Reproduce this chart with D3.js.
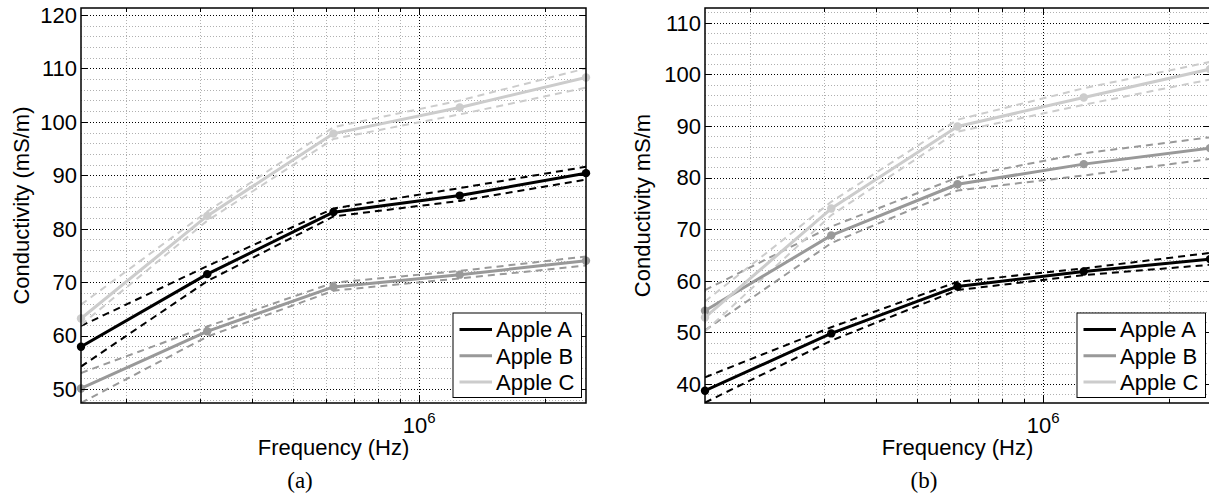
<!DOCTYPE html>
<html>
<head>
<meta charset="utf-8">
<script src="https://cdn.jsdelivr.net/npm/d3@7"></script>
<style>
  body { margin: 0; background: #fff; }
  svg { display: block; }
  text { font-family: "Liberation Sans", Arial, sans-serif; fill: #000; }
</style>
</head>
<body>
<svg id="chart" width="1209" height="501"></svg>
<script>
// shared x values (Hz) and tick values
const freqs = [156250, 312500, 625000, 1250000, 2500000];
const xMajorTicks = [1e6];
const xMinorTicks = [2e5, 3e5, 4e5, 5e5, 6e5, 7e5, 8e5, 9e5, 2e6];
const seriesNames = ['Apple A', 'Apple B', 'Apple C'];
const seriesColors = ['#000000', '#999999', '#cccccc'];

// panel (a): mean and +/- envelope per apple
const aMeanA = [57.9, 71.5, 83.1, 86.2, 90.4];
const aUpA   = [61.8, 73.0, 83.8, 87.6, 91.6];
const aLowA  = [54.2, 70.2, 82.3, 85.2, 89.2];
const aMeanB = [50.1, 60.8, 69.1, 71.4, 74.0];
const aUpB   = [53.0, 61.7, 69.9, 72.1, 74.8];
const aLowB  = [47.4, 59.8, 68.4, 70.7, 73.1];
const aMeanC = [63.2, 82.4, 97.8, 102.7, 108.3];
const aUpC   = [65.8, 83.2, 99.0, 104.0, 110.0];
const aLowC  = [62.0, 81.5, 96.8, 101.4, 106.4];
const aYTicks = [50, 60, 70, 80, 90, 100, 110, 120];
const aYDomain = [47.38, 121.31];

// panel (b)
const bMeanA = [38.7, 49.8, 58.9, 61.8, 64.2];
const bUpA   = [41.3, 51.0, 59.8, 62.4, 65.4];
const bLowA  = [36.4, 48.4, 58.2, 61.1, 63.1];
const bMeanB = [54.2, 68.8, 78.7, 82.6, 85.7];
const bUpB   = [58.2, 70.5, 80.0, 84.7, 87.8];
const bLowB  = [50.4, 67.3, 77.5, 80.4, 83.6];
const bMeanC = [52.9, 74.0, 89.9, 95.5, 101.0];
const bUpC   = [56.0, 75.3, 91.2, 97.3, 102.4];
const bLowC  = [50.2, 72.7, 88.9, 94.1, 99.0];
const bYTicks = [40, 50, 60, 70, 80, 90, 100, 110];
const bYDomain = [36.32, 112.85];

const panels = [
  {
    box: { left: 81, right: 586, top: 8, bottom: 403 },
    yDomain: aYDomain, yTicks: aYTicks,
    ylabel: 'Conductivity (mS/m)', ylabelX: 29, caption: '(a)', captionX: 300,
    series: [[aMeanA, aUpA, aLowA], [aMeanB, aUpB, aLowB], [aMeanC, aUpC, aLowC]],
  },
  {
    box: { left: 705, right: 1210, top: 8, bottom: 403 },
    yDomain: bYDomain, yTicks: bYTicks,
    ylabel: 'Conductivity mS/m', ylabelX: 650, caption: '(b)', captionX: 924,
    series: [[bMeanA, bUpA, bLowA], [bMeanB, bUpB, bLowB], [bMeanC, bUpC, bLowC]],
  },
];

const svg = d3.select('#chart');
svg.append('rect').attr('width', 1209).attr('height', 501).attr('fill', '#fff');

const snap = (v) => Math.round(v) + 0.5;

function drawPanel(p) {
  const b = p.box;
  const x = d3.scaleLog().domain([freqs[0], freqs[freqs.length - 1]]).range([b.left, b.right]);
  const y = d3.scaleLinear().domain(p.yDomain).range([b.bottom, b.top]);
  const g = svg.append('g');

  // minor y values every 2 units, skipping majors
  const yMinor = d3.range(Math.ceil(p.yDomain[0] / 2) * 2, p.yDomain[1], 2).filter((v) => v % 10 !== 0);

  // minor grid (light gray dots)
  const grid = g.append('g').attr('fill', 'none').attr('stroke-width', 1).attr('stroke-dasharray', '1,2');
  grid.selectAll('.gx').data(xMinorTicks).enter().append('line')
    .attr('x1', (d) => snap(x(d))).attr('x2', (d) => snap(x(d)))
    .attr('y1', b.top).attr('y2', b.bottom).attr('stroke', '#b0b0b0');
  grid.selectAll('.gy').data(yMinor).enter().append('line')
    .attr('x1', b.left).attr('x2', b.right)
    .attr('y1', (d) => snap(y(d))).attr('y2', (d) => snap(y(d))).attr('stroke', '#b0b0b0');
  // major grid (black dots)
  grid.selectAll('.gX').data(xMajorTicks).enter().append('line')
    .attr('x1', (d) => snap(x(d))).attr('x2', (d) => snap(x(d)))
    .attr('y1', b.top).attr('y2', b.bottom).attr('stroke', '#000');
  grid.selectAll('.gY').data(p.yTicks).enter().append('line')
    .attr('x1', b.left).attr('x2', b.right)
    .attr('y1', (d) => snap(y(d))).attr('y2', (d) => snap(y(d))).attr('stroke', '#000');

  const line = d3.line().x((d, i) => x(freqs[i])).y((d) => y(d));
  const clipId = 'clip' + b.left;
  svg.append('clipPath').attr('id', clipId).append('rect')
    .attr('x', b.left).attr('y', b.top).attr('width', b.right - b.left).attr('height', b.bottom - b.top);
  const data = g.append('g').attr('clip-path', `url(#${clipId})`);

  // envelopes (dashed)
  p.series.forEach((s, k) => {
    [s[1], s[2]].forEach((arr) => {
      data.append('path').attr('d', line(arr)).attr('fill', 'none')
        .attr('stroke', seriesColors[k]).attr('stroke-width', 2)
        .attr('stroke-dasharray', '7,5');
    });
  });
  // means with markers (markers are not clipped, like MATLAB)
  p.series.forEach((s, k) => {
    data.append('path').attr('d', line(s[0])).attr('fill', 'none')
      .attr('stroke', seriesColors[k]).attr('stroke-width', 3).attr('stroke-linejoin', 'round');
  });
  p.series.forEach((s, k) => {
    g.selectAll('.m' + k).data(s[0]).enter().append('circle')
      .attr('cx', (d, i) => x(freqs[i])).attr('cy', (d) => y(d)).attr('r', 4.2)
      .attr('fill', seriesColors[k]);
  });

  // axes box
  g.append('rect').attr('x', b.left).attr('y', b.top)
    .attr('width', b.right - b.left).attr('height', b.bottom - b.top)
    .attr('fill', 'none').attr('stroke', '#000').attr('stroke-width', 1.5);

  // ticks (inside, both sides)
  const ticks = g.append('g').attr('stroke', '#000').attr('stroke-width', 1);
  p.yTicks.forEach((v) => {
    const yy = snap(y(v));
    ticks.append('line').attr('x1', b.left).attr('x2', b.left + 6).attr('y1', yy).attr('y2', yy);
    ticks.append('line').attr('x1', b.right - 6).attr('x2', b.right).attr('y1', yy).attr('y2', yy);
  });
  xMinorTicks.forEach((v) => {
    const xx = snap(x(v));
    ticks.append('line').attr('x1', xx).attr('x2', xx).attr('y1', b.bottom).attr('y2', b.bottom - 4);
    ticks.append('line').attr('x1', xx).attr('x2', xx).attr('y1', b.top).attr('y2', b.top + 4);
  });
  xMajorTicks.forEach((v) => {
    const xx = snap(x(v));
    ticks.append('line').attr('x1', xx).attr('x2', xx).attr('y1', b.bottom).attr('y2', b.bottom - 7);
    ticks.append('line').attr('x1', xx).attr('x2', xx).attr('y1', b.top).attr('y2', b.top + 7);
  });

  // y tick labels
  g.selectAll('.yl').data(p.yTicks).enter().append('text')
    .attr('x', b.left - 4).attr('y', (d) => y(d)).attr('dy', '0.36em')
    .attr('text-anchor', 'end').style('font-size', '22px').text((d) => d);

  // x tick label 10^6
  xMajorTicks.forEach((v) => {
    const t = g.append('text').attr('x', x(v)).attr('y', 433)
      .attr('text-anchor', 'middle').style('font-size', '22px');
    t.append('tspan').text('10');
    t.append('tspan').attr('dy', -10.5).style('font-size', '15px').text(Math.round(Math.log10(v)));
  });

  // axis labels
  g.append('text').attr('x', (b.left + b.right) / 2).attr('y', 455)
    .attr('text-anchor', 'middle').style('font-size', '22px').text('Frequency (Hz)');
  g.append('text').attr('transform', `translate(${p.ylabelX},${(b.top + b.bottom) / 2}) rotate(-90)`)
    .attr('text-anchor', 'middle').style('font-size', '22px').text(p.ylabel);

  // caption
  g.append('text').attr('x', p.captionX).attr('y', 488).attr('text-anchor', 'middle')
    .style('font-family', '"Liberation Serif", "Times New Roman", serif').style('font-size', '23px')
    .text(p.caption);

  // legend
  const lw = 128.5, lh = 84.5;
  const lx = b.right - 5 - lw, ly = b.bottom - 6 - lh;
  const leg = g.append('g').attr('transform', `translate(${lx},${ly})`);
  leg.append('rect').attr('x', 0.5).attr('y', 0.5).attr('width', lw).attr('height', lh)
    .attr('fill', '#fff').attr('stroke', '#000').attr('stroke-width', 1);
  seriesNames.forEach((name, k) => {
    const cy = 17 + k * 26.3;
    leg.append('line').attr('x1', 7).attr('x2', 39.5).attr('y1', cy).attr('y2', cy)
      .attr('stroke', seriesColors[k]).attr('stroke-width', 3);
    leg.append('text').attr('x', 43.5).attr('y', cy).attr('dy', '0.35em')
      .style('font-size', '22px').text(name);
  });
}

panels.forEach(drawPanel);
</script>
</body>
</html>
